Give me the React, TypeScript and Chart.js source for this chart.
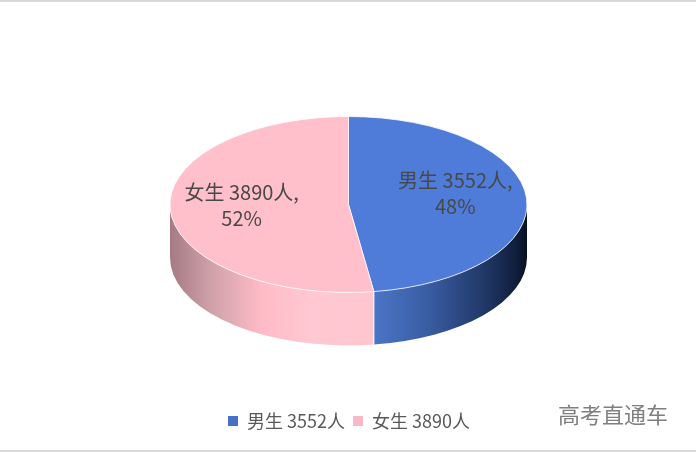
import React, { useEffect, useRef } from "react";
import { Chart, registerables } from "chart.js";

Chart.register(...registerables);

const categories = ["男生 3552人", "女生 3890人"];
const values = [3552, 3890];
const percentLabels = ["48%", "52%"];
const topColors = ["#507cd9", "#ffc0cb"];
const legendColors = ["#4472c4", "#f8b8c4"];

const CJK = '"Noto Sans CJK SC", "Noto Sans", sans-serif';
const CX = 348.5, CY = 204.5, RX = 178.5, RY = 88, DEPTH = 53;

const wallStops: [number, string][][] = [
  [[0, "#4a75c6"], [0.35, "#3a5da3"], [0.7, "#223a6b"], [0.93, "#101e3c"], [1, "#081020"]],
  [[0, "#a67a83"], [0.2, "#cfa1a9"], [0.45, "#ffbbc6"], [0.7, "#ffc9d2"], [1, "#ffc6d0"]],
];

const pie3d = {
  id: "pie3d",
  beforeDatasetsDraw(chart: any) {
    const ctx = chart.ctx;
    const arcs = chart.getDatasetMeta(0).data;
    // side wall: only the front half of the disc is visible
    arcs.forEach((arc: any, i: number) => {
      const a0 = Math.max(arc.startAngle, 0);
      const a1 = Math.min(arc.endAngle, Math.PI);
      if (a1 <= a0) return;
      const x0 = CX + RX * Math.cos(a0);
      const x1 = CX + RX * Math.cos(a1);
      const g = ctx.createLinearGradient(x1, 0, x0, 0);
      wallStops[i].forEach(([s, c]) => g.addColorStop(s, c));
      ctx.beginPath();
      ctx.ellipse(CX, CY, RX, RY, 0, a0, a1, false);
      ctx.lineTo(x1, CY + RY * Math.sin(a1) + DEPTH);
      ctx.ellipse(CX, CY + DEPTH, RX, RY, 0, a1, a0, true);
      ctx.closePath();
      ctx.fillStyle = g;
      ctx.fill();
      if (i === 1) {
        ctx.beginPath();
        ctx.moveTo(x0, CY + RY * Math.sin(a0));
        ctx.lineTo(x0, CY + RY * Math.sin(a0) + DEPTH);
        ctx.strokeStyle = "#ffffff";
        ctx.lineWidth = 1;
        ctx.stroke();
      }
    });
    // flatten the pie itself into the top ellipse
    const first = arcs[0];
    ctx.save();
    ctx.translate(CX, CY);
    ctx.scale(RX / first.outerRadius, RY / first.outerRadius);
    ctx.translate(-first.x, -first.y);
  },
  afterDatasetsDraw(chart: any) {
    const ctx = chart.ctx;
    ctx.restore();
    const arcs = chart.getDatasetMeta(0).data;
    const lift = [-7, -3];
    ctx.save();
    ctx.font = `20px ${CJK}`;
    ctx.fillStyle = "#484848";
    ctx.textAlign = "center";
    ctx.textBaseline = "middle";
    arcs.forEach((arc: any, i: number) => {
      const mid = (arc.startAngle + arc.endAngle) / 2;
      const x = CX + RX * 0.6 * Math.cos(mid);
      const y = CY + RY * 0.6 * Math.sin(mid) + lift[i];
      ctx.fillText(`${categories[i]},`, x, y - 13);
      ctx.fillText(percentLabels[i], x, y + 13);
    });
    ctx.restore();
  },
};

export default function App() {
  const ref = useRef<HTMLCanvasElement>(null);
  useEffect(() => {
    const chart = new Chart(ref.current!, {
      type: "pie",
      data: {
        labels: categories,
        datasets: [
          {
            data: values,
            backgroundColor: topColors,
            borderColor: "#ffffff",
            borderWidth: 1,
            radius: RX,
            clip: false,
          } as any,
        ],
      },
      options: {
        responsive: false,
        animation: false,
        devicePixelRatio: 1,
        layout: { padding: { left: 2, bottom: 12 } },
        plugins: {
          tooltip: { enabled: false },
          legend: {
            position: "bottom",
            onClick: () => {},
            labels: {
              usePointStyle: true,
              pointStyle: "rect",
              boxWidth: 10,
              boxHeight: 10,
              padding: 8,
              color: "#595959",
              font: { family: CJK, size: 18 },
              generateLabels: () =>
                categories.map((text, i) => ({
                  text,
                  fontColor: "#595959",
                  fillStyle: legendColors[i],
                  strokeStyle: legendColors[i],
                  lineWidth: 0,
                  pointStyle: "rect",
                  hidden: false,
                  index: i,
                })),
            },
          },
        },
      },
      plugins: [pie3d],
    } as any);
    return () => chart.destroy();
  }, []);
  return (
    <div style={{ position: "fixed", left: 0, top: 0, width: 696, height: 452, background: "#fff", overflow: "hidden" }}>
      <canvas ref={ref} width={696} height={452} style={{ display: "block", width: 696, height: 452 }} />
      <div style={{ position: "absolute", left: 0, top: 0, width: 696, height: 2, background: "#d9d9d9" }} />
      <div style={{ position: "absolute", left: 0, top: 450, width: 696, height: 2, background: "#d9d9d9" }} />
      <div style={{ position: "absolute", left: 558, top: 399, fontFamily: CJK, fontSize: 22, lineHeight: "28px", color: "#7f7f7f", whiteSpace: "nowrap" }}>高考直通车</div>
    </div>
  );
}
